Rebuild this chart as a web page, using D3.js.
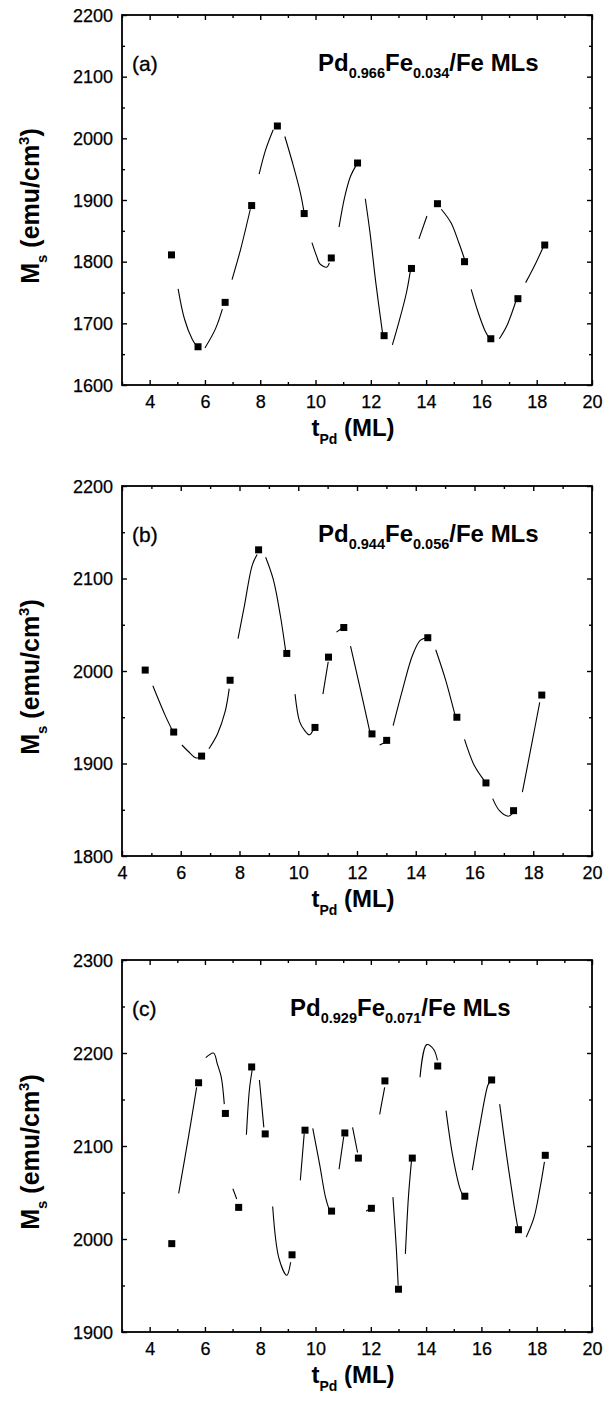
<!DOCTYPE html>
<html>
<head>
<meta charset="utf-8">
<script src="https://cdn.jsdelivr.net/npm/d3@7"></script>
<style>
html,body{margin:0;padding:0;background:#fff;}
svg{display:block;}
text{font-family:"Liberation Sans",Arial,Helvetica,sans-serif;fill:#000;}
</style>
</head>
<body>
<svg id="chart" width="605" height="1401"></svg>
<script>
// ---------- Panel (a): Pd0.966Fe0.034/Fe ----------
const tA  = [4.79,5.75,6.73,7.69,8.62,9.59,10.57,11.52,12.48,13.47,14.41,15.39,16.34,17.32,18.29];
const msA = [1811,1662,1734,1891,2020,1878,1806,1960,1680,1789,1894,1800,1675,1740,1827];
const curvesA = [
  [[5.03,1756],[5.26,1707],[5.54,1674],[5.68,1664]],
  [[6.0,1660],[6.38,1691],[6.63,1723]],
  [[6.98,1771],[7.29,1820],[7.64,1885]],
  [[7.96,1942],[8.2,1982],[8.47,2014]],
  [[8.89,2003],[9.17,1960],[9.45,1912],[9.59,1879]],
  [[9.87,1831],[10.04,1809],[10.15,1797],[10.4,1791],[10.5,1798]],
  [[10.85,1856],[11.06,1906],[11.27,1939],[11.48,1957]],
  [[11.8,1902],[11.97,1847],[12.18,1766],[12.43,1682]],
  [[12.78,1665],[13.01,1701],[13.29,1750],[13.43,1785]],
  [[13.74,1837],[14.03,1874]],
  [[14.55,1885],[14.9,1863],[15.18,1831],[15.39,1804]],
  [[15.63,1755],[15.88,1718],[16.13,1688],[16.3,1675]],
  [[16.65,1675],[16.92,1696],[17.27,1739]],
  [[17.6,1766],[17.97,1798],[18.25,1825]]
];
const xTicksA = [4,6,8,10,12,14,16,18,20];
const yTicksA = [1600,1700,1800,1900,2000,2100,2200];

// ---------- Panel (b): Pd0.944Fe0.056/Fe ----------
const tB  = [4.79,5.76,6.71,7.68,8.65,9.61,10.57,11.03,11.55,12.51,13.01,14.41,15.4,16.39,17.33,18.29];
const msB = [2001,1934,1908,1990,2131,2019,1939,2015,2047,1932,1925,2036,1950,1879,1849,1974];
const curvesB = [
  [[5.05,1984],[5.47,1952],[5.71,1936]],
  [[6.04,1920],[6.26,1913],[6.52,1906],[6.68,1907]],
  [[6.96,1916],[7.25,1932],[7.51,1956],[7.65,1981]],
  [[7.95,2035],[8.17,2071],[8.43,2114],[8.6,2126]],
  [[8.89,2123],[9.15,2099],[9.39,2060],[9.57,2022]],
  [[9.89,1975],[10.05,1945],[10.21,1936],[10.38,1931],[10.5,1936]],
  [[10.84,1975],[11.02,2010]],
  [[11.3,2042],[11.52,2047]],
  [[11.78,2027],[12.11,1981],[12.44,1934]],
  [[12.77,1920],[12.97,1923]],
  [[13.23,1941],[13.56,1981],[13.89,2017],[14.15,2033],[14.35,2036]],
  [[14.68,2023],[15.01,1991],[15.34,1952]],
  [[15.66,1926],[15.99,1898],[16.32,1882]],
  [[16.62,1862],[16.85,1849],[17.15,1843],[17.3,1846]],
  [[17.63,1869],[17.96,1923],[18.22,1966]]
];
const xTicksB = [4,6,8,10,12,14,16,18,20];
const yTicksB = [1800,1900,2000,2100,2200];

// ---------- Panel (c): Pd0.929Fe0.071/Fe ----------
const tC  = [4.8,5.77,6.74,7.22,7.69,8.18,9.15,9.62,10.58,11.06,11.55,12.02,12.51,13.0,13.5,14.42,15.4,16.37,17.34,18.31];
const msC = [1995,2168,2135,2034,2185,2113,1983,2117,2030,2114,2087,2033,2170,1946,2087,2186,2046,2171,2010,2090];
const curvesC = [
  [[5.05,2049],[5.4,2109],[5.7,2163]],
  [[6.03,2195],[6.31,2200],[6.45,2188],[6.59,2174],[6.7,2145]],
  [[7.01,2054],[7.15,2043]],
  [[7.5,2112],[7.61,2161],[7.71,2182]],
  [[7.97,2171],[8.13,2120]],
  [[8.45,2035],[8.68,1979],[8.96,1961],[9.1,1975]],
  [[9.45,2063],[9.59,2113]],
  [[9.9,2119],[10.15,2080],[10.36,2045],[10.5,2031]],
  [[10.85,2075],[11.02,2110]],
  [[11.34,2120],[11.52,2093]],
  [[11.83,2030],[12.03,2033]],
  [[12.32,2134],[12.5,2163]],
  [[12.8,2045],[12.92,1991],[12.99,1950]],
  [[13.25,1984],[13.36,2045],[13.47,2084]],
  [[13.78,2174],[14.02,2209],[14.27,2204],[14.41,2192]],
  [[14.72,2138],[14.97,2088],[15.25,2052],[15.36,2046]],
  [[15.67,2074],[15.95,2123],[16.23,2165],[16.32,2170]],
  [[16.66,2145],[16.92,2088],[17.17,2038],[17.31,2013]],
  [[17.62,2002],[17.9,2023],[18.11,2053],[18.28,2083]]
];
const xTicksC = [4,6,8,10,12,14,16,18,20];
const yTicksC = [1900,2000,2100,2200,2300];

const labelA = "(a)", labelB = "(b)", labelC = "(c)";
const compA = ["0.966","0.034"], compB = ["0.944","0.056"], compC = ["0.929","0.071"];

// ---------- drawing ----------
const svg = d3.select("#chart");
const L = 122, R = 592;

function panel(o){
  const g = svg.append("g");
  const x = d3.scaleLinear().domain(o.xdom).range([L, R]);
  const y = d3.scaleLinear().domain(o.ydom).range([o.bottom, o.top]);

  const xMinor = d3.range(Math.ceil(o.xdom[0]), o.xdom[1]+0.001, 1).filter(v => v % 2 !== 0);
  const yMinor = d3.range(o.ydom[0]+50, o.ydom[1], 100);

  const axes = [
    {ax: d3.axisBottom(x).tickValues(o.xt).tickSize(-5).tickFormat(d3.format("d")), tr: `translate(0,${o.bottom})`},
    {ax: d3.axisTop(x).tickValues(o.xt).tickSize(-5).tickFormat(""), tr: `translate(0,${o.top})`},
    {ax: d3.axisLeft(y).tickValues(o.yt).tickSize(-5).tickFormat(d3.format("d")), tr: `translate(${L},0)`},
    {ax: d3.axisRight(y).tickValues(o.yt).tickSize(-5).tickFormat(""), tr: `translate(${R},0)`}
  ];
  axes.forEach((a, i) => {
    const ag = g.append("g").attr("transform", a.tr).call(a.ax);
    ag.select(".domain").remove();
    ag.selectAll("line").attr("stroke", "#000").attr("stroke-width", 1.4);
    ag.selectAll("text").style("font-size", "18px").style("font-family", "'Liberation Sans',Arial,sans-serif")
      .attr("fill", "#000").attr("stroke", "#000").attr("stroke-width", 0.25);
    if (i === 0) ag.selectAll("text").attr("y", 10).attr("dy", "0.71em");
    if (i === 2) ag.selectAll("text").attr("x", -9).attr("dy", "0.35em");
  });
  const minors = [
    {ax: d3.axisBottom(x).tickValues(xMinor).tickSize(-3).tickFormat(""), tr: `translate(0,${o.bottom})`},
    {ax: d3.axisTop(x).tickValues(xMinor).tickSize(-3).tickFormat(""), tr: `translate(0,${o.top})`},
    {ax: d3.axisLeft(y).tickValues(yMinor).tickSize(-3).tickFormat(""), tr: `translate(${L},0)`},
    {ax: d3.axisRight(y).tickValues(yMinor).tickSize(-3).tickFormat(""), tr: `translate(${R},0)`}
  ];
  minors.forEach(a => {
    const ag = g.append("g").attr("transform", a.tr).call(a.ax);
    ag.select(".domain").remove();
    ag.selectAll("line").attr("stroke", "#000").attr("stroke-width", 1.4);
  });
  g.append("rect").attr("x", L).attr("y", o.top).attr("width", R - L).attr("height", o.bottom - o.top)
    .attr("fill", "none").attr("stroke", "#000").attr("stroke-width", 1.8);

  const line = d3.line().x(d => x(d[0])).y(d => y(d[1])).curve(d3.curveCatmullRom.alpha(0.5));
  g.selectAll("path.curve").data(o.curves).enter().append("path")
    .attr("class", "curve").attr("d", line)
    .attr("fill", "none").attr("stroke", "#000").attr("stroke-width", 1.1);

  const s = 7;
  g.selectAll("rect.pt").data(o.t.map((t, i) => [t, o.ms[i]])).enter().append("rect")
    .attr("class", "pt")
    .attr("x", d => x(d[0]) - s/2).attr("y", d => y(d[1]) - s/2)
    .attr("width", s).attr("height", s).attr("fill", "#000");

  g.append("text").attr("x", 132).attr("y", o.top + 56)
    .style("font-size", "21px").attr("stroke", "#000").attr("stroke-width", 0.3).text(o.label);

  const tt = g.append("text").attr("x", o.titleX).attr("y", o.top + 56)
    .style("font-size", "24px").style("font-weight", "bold");
  tt.append("tspan").text("Pd");
  tt.append("tspan").attr("dy", 7).style("font-size", "14.5px").text(o.comp[0]);
  tt.append("tspan").attr("dy", -7).text("Fe");
  tt.append("tspan").attr("dy", 7).style("font-size", "14.5px").text(o.comp[1]);
  tt.append("tspan").attr("dy", -7).text("/Fe MLs");

  const xt = g.append("text").attr("x", (L + R) / 2 - 4).attr("y", o.bottom + 51)
    .attr("text-anchor", "middle").style("font-size", "24px").style("font-weight", "bold");
  xt.append("tspan").text("t");
  xt.append("tspan").attr("dy", 8).style("font-size", "14px").text("Pd");
  xt.append("tspan").attr("dy", -8).text(" (ML)");

  const cy = (o.top + o.bottom) / 2 + 6;
  const yt = g.append("text").attr("transform", `translate(39,${cy}) rotate(-90)`)
    .attr("text-anchor", "middle").style("font-size", "25px").style("font-weight", "bold");
  yt.append("tspan").text("M");
  yt.append("tspan").attr("dy", 8).style("font-size", "15px").text("s");
  yt.append("tspan").attr("dy", -8).text(" (emu/cm");
  yt.append("tspan").attr("dy", -10).style("font-size", "15px").text("3");
  yt.append("tspan").attr("dy", 10).text(")");
}

panel({xdom:[3,20], ydom:[1600,2200], top:15,  bottom:385,  xt:xTicksA, yt:yTicksA, t:tA, ms:msA, curves:curvesA, label:labelA, comp:compA, titleX:318});
panel({xdom:[4,20], ydom:[1800,2200], top:486, bottom:856,  xt:xTicksB, yt:yTicksB, t:tB, ms:msB, curves:curvesB, label:labelB, comp:compB, titleX:318});
panel({xdom:[3,20], ydom:[1900,2300], top:960, bottom:1332, xt:xTicksC, yt:yTicksC, t:tC, ms:msC, curves:curvesC, label:labelC, comp:compC, titleX:290});
</script>
</body>
</html>
